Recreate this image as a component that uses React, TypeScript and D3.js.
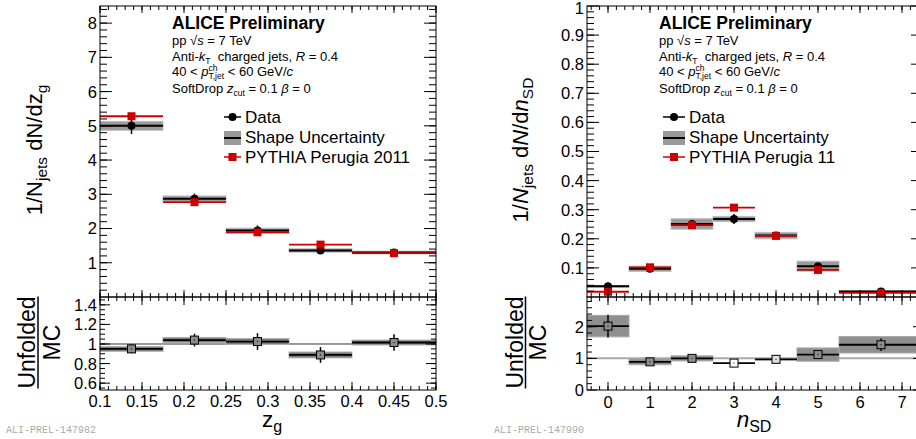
import React from 'react';
import * as d3 from 'd3';

const FONT = '"Liberation Sans", Arial, Helvetica, sans-serif';
const RED = '#cc0000';

// ---- z_g panel data ----
const zgEdges = [0.1, 0.175, 0.25, 0.325, 0.4, 0.5];
const zgData = [5.0, 2.87, 1.94, 1.36, 1.3];
const zgStat = [0.24, 0.15, 0.15, 0.05, 0.08];
const zgSys = [0.13, 0.08, 0.07, 0.05, 0.04];
const zgPythia = [5.28, 2.77, 1.89, 1.53, 1.28];
const zgRatio = [0.95, 1.04, 1.025, 0.888, 1.015];
const zgRatioStat = [0.045, 0.065, 0.085, 0.08, 0.085];
const zgRatioSys = [0.025, 0.027, 0.03, 0.03, 0.025];
const zgXTicks = [0.1, 0.15, 0.2, 0.25, 0.3, 0.35, 0.4, 0.45, 0.5];
const zgXTickLabels = ['0.1', '0.15', '0.2', '0.25', '0.3', '0.35', '0.4', '0.45', '0.5'];
const zgYTicks = [1, 2, 3, 4, 5, 6, 7, 8];
const zgRatioYTicks = [0.6, 0.8, 1, 1.2, 1.4];

// ---- n_SD panel data ----
const nsdEdges = [-0.5, 0.5, 1.5, 2.5, 3.5, 4.5, 5.5, 7.5];
const nsdData = [0.037, 0.097, 0.251, 0.268, 0.211, 0.106, 0.019];
const nsdStat = [0.004, 0.005, 0.01, 0.017, 0.006, 0.008, 0.004];
const nsdSys = [0.003, 0.009, 0.018, 0.009, 0.011, 0.017, 0.003];
const nsdPythia = [0.018, 0.102, 0.247, 0.307, 0.21, 0.093, 0.014];
const nsdRatio = [2.02, 0.89, 1.0, 0.85, 0.97, 1.12, 1.43];
const nsdRatioStat = [0.36, 0.03, 0.03, 0.02, 0.03, 0.08, 0.2];
const nsdRatioSys = [0.34, 0.09, 0.08, 0.0, 0.02, 0.21, 0.26];
const nsdRatioFill = ['#8c8c8c', '#8c8c8c', '#8c8c8c', '#ffffff', '#dddddd', '#8c8c8c', '#8c8c8c'];
const nsdXTicks = [0, 1, 2, 3, 4, 5, 6, 7];
const nsdYTicks = [0.1, 0.2, 0.3, 0.4, 0.5, 0.6, 0.7, 0.8, 0.9, 1];
const nsdYTickLabels = ['0.1', '0.2', '0.3', '0.4', '0.5', '0.6', '0.7', '0.8', '0.9', '1'];
const nsdRatioYTicks = [0, 1, 2];

const TOP_Y0 = 6;
const TOP_Y1 = 297;
const BOT_Y1 = 390;

function rng(a: number, b: number, s: number) {
  const out: number[] = [];
  for (let v = a; v <= b + 1e-9; v += s) out.push(+v.toFixed(6));
  return out;
}

function Ticks({ xs, ys, xMaj, xMin, yMaj, yMin, xl, yl }: any) {
  const [x0, x1] = xs.range();
  const [y1, y0] = ys.range();
  const els: any[] = [];
  const addX = (vals: number[], len: number, k: string) =>
    vals.forEach((v, i) => {
      const x = xs(v);
      els.push(<line key={k + 'b' + i} x1={x} x2={x} y1={y1} y2={y1 - len} stroke="#000" />);
      els.push(<line key={k + 't' + i} x1={x} x2={x} y1={y0} y2={y0 + len} stroke="#000" />);
    });
  const addY = (vals: number[], len: number, k: string) =>
    vals.forEach((v, i) => {
      const y = ys(v);
      els.push(<line key={k + 'l' + i} x1={x0} x2={x0 + len} y1={y} y2={y} stroke="#000" />);
      els.push(<line key={k + 'r' + i} x1={x1} x2={x1 - len} y1={y} y2={y} stroke="#000" />);
    });
  addX(xMin, xl[1], 'xm');
  addX(xMaj, xl[0], 'xM');
  addY(yMin, yl[1], 'ym');
  addY(yMaj, yl[0], 'yM');
  return <g strokeWidth={1}>{els}</g>;
}

function TopMarks({ xs, ys, edges, data, stat, sys, pythia }: any) {
  const idx = d3.range(data.length);
  const cx = (i: number) => xs((edges[i] + edges[i + 1]) / 2);
  return (
    <g>
      {idx.map((i) => (
        <rect key={'b' + i} x={xs(edges[i])} width={xs(edges[i + 1]) - xs(edges[i])}
          y={ys(data[i] + sys[i])} height={Math.max(ys(data[i] - sys[i]) - ys(data[i] + sys[i]), 1)}
          fill="#9a9a9a" stroke="#bdbdbd" strokeWidth={1} />
      ))}
      {idx.map((i) => (
        <g key={'d' + i}>
          <line x1={xs(edges[i])} x2={xs(edges[i + 1])} y1={ys(data[i])} y2={ys(data[i])} stroke="#000" strokeWidth={2} />
          <line x1={cx(i)} x2={cx(i)} y1={ys(data[i] + stat[i])} y2={ys(data[i] - stat[i])} stroke="#000" strokeWidth={1.5} />
          <circle cx={cx(i)} cy={ys(data[i])} r={4} fill="#000" />
        </g>
      ))}
      {idx.map((i) => (
        <g key={'p' + i}>
          <line x1={xs(edges[i])} x2={xs(edges[i + 1])} y1={ys(pythia[i])} y2={ys(pythia[i])} stroke={RED} strokeWidth={1.8} />
          <rect x={cx(i) - 4} y={ys(pythia[i]) - 4} width={8} height={8} fill={RED} />
        </g>
      ))}
    </g>
  );
}

function RatioMarks({ xs, ys, edges, data, stat, sys, fills, bandFill, bandStroke }: any) {
  const idx = d3.range(data.length);
  const cx = (i: number) => xs((edges[i] + edges[i + 1]) / 2);
  return (
    <g>
      {idx.map((i) => (
        <rect key={'b' + i} x={xs(edges[i])} width={xs(edges[i + 1]) - xs(edges[i])}
          y={ys(data[i] + sys[i])} height={Math.max(ys(data[i] - sys[i]) - ys(data[i] + sys[i]), 0)}
          fill={bandFill} stroke={bandStroke} strokeWidth={1} />
      ))}
      {idx.map((i) => (
        <g key={'d' + i}>
          <line x1={xs(edges[i])} x2={xs(edges[i + 1])} y1={ys(data[i])} y2={ys(data[i])} stroke="#000" strokeWidth={1.8} />
          <line x1={cx(i)} x2={cx(i)} y1={ys(data[i] + stat[i])} y2={ys(data[i] - stat[i])} stroke="#000" strokeWidth={1.5} />
          <rect x={cx(i) - 4} y={ys(data[i]) - 4} width={8} height={8} fill={fills ? fills[i] : '#8c8c8c'} stroke="#000" strokeWidth={1} />
          <rect x={cx(i) - 0.5} y={ys(data[i]) - 0.5} width={1} height={1} fill="#000" />
        </g>
      ))}
    </g>
  );
}

function Header({ x }: { x: number }) {
  const fs = 13;
  const sub = 8.5;
  return (
    <g fontFamily={FONT} fill="#000">
      <text x={x} y={29} fontSize={17.5} fontWeight="bold">ALICE Preliminary</text>
      <text x={x} y={45} fontSize={fs}>{'pp \u221A'}<tspan fontStyle="italic">s</tspan>{' = 7 TeV'}</text>
      <text x={x} y={61} fontSize={fs}>
        {'Anti-'}<tspan fontStyle="italic">k</tspan>
        <tspan fontSize={sub} dy={3}>T</tspan>
        <tspan dy={-3}>{'\u00a0 charged jets, '}</tspan>
        <tspan fontStyle="italic">R</tspan>{' = 0.4'}
      </text>
      <text x={x} y={76} fontSize={fs}>
        {'40 < '}<tspan fontStyle="italic">p</tspan>
        <tspan fontSize={sub} dy={-5}>ch</tspan>
        <tspan fontSize={sub} dx={-9} dy={8}>T,jet</tspan>
        <tspan dy={-3}>{' < 60 GeV/'}</tspan>
        <tspan fontStyle="italic">c</tspan>
      </text>
      <text x={x} y={93} fontSize={fs}>
        {'SoftDrop '}<tspan fontStyle="italic">z</tspan>
        <tspan fontSize={sub} dy={3}>cut</tspan>
        <tspan dy={-3}>{' = 0.1 '}</tspan>
        <tspan fontStyle="italic">{'\u03B2'}</tspan>{' = 0'}
      </text>
    </g>
  );
}

function Legend({ x0, x1, tx, label3 }: any) {
  const cx = (x0 + x1) / 2;
  return (
    <g fontFamily={FONT} fontSize={17}>
      <line x1={x0} x2={x1} y1={117} y2={117} stroke="#000" strokeWidth={1.5} />
      <circle cx={cx} cy={117} r={4} fill="#000" />
      <text x={tx} y={123}>Data</text>
      <rect x={x0} y={131} width={x1 - x0} height={14} fill="#9a9a9a" />
      <line x1={x0} x2={x1} y1={138} y2={138} stroke="#000" strokeWidth={2} />
      <text x={tx} y={143}>Shape Uncertainty</text>
      <line x1={x0} x2={x1} y1={157} y2={157} stroke={RED} strokeWidth={1.5} />
      <rect x={cx - 4} y={153} width={8} height={8} fill={RED} />
      <text x={tx} y={163}>{label3}</text>
    </g>
  );
}

export default function App() {
  const lx = d3.scaleLinear().domain([0.1, 0.5]).range([100, 436]);
  const ly = d3.scaleLinear().domain([0, 8.5]).range([TOP_Y1, TOP_Y0]);
  const lry = d3.scaleLinear().domain([0.53, 1.48]).range([BOT_Y1, TOP_Y1]);
  const rx = d3.scaleLinear().domain([-0.5, 7.5]).range([587, 923]);
  const ry = d3.scaleLinear().domain([0, 1]).range([TOP_Y1, TOP_Y0]);
  const rry = d3.scaleLinear().domain([0, 2.94]).range([BOT_Y1, TOP_Y1]);

  const tickFont = 16.5;
  const MONO = '"Liberation Mono", "DejaVu Sans Mono", monospace';

  return (
    <svg width={916} height={439} style={{ position: 'absolute', left: 0, top: 0, background: '#fff' }}
      fontFamily={FONT}>
      <rect x={0} y={0} width={916} height={439} fill="#fff" />

      {/* ---------------- LEFT PANEL ---------------- */}
      <TopMarks xs={lx} ys={ly} edges={zgEdges} data={zgData} stat={zgStat} sys={zgSys} pythia={zgPythia} />
      <Ticks xs={lx} ys={ly} xMaj={zgXTicks} xMin={rng(0.1, 0.5, 0.01)} yMaj={zgYTicks} yMin={rng(0.2, 8.4, 0.2)} xl={[7, 4]} yl={[12, 7]} />
      <rect x={100} y={TOP_Y0} width={336} height={TOP_Y1 - TOP_Y0} fill="none" stroke="#000" strokeWidth={1} />
      {zgYTicks.map((v) => (
        <text key={'lyt' + v} x={97} y={ly(v)} dy="0.36em" textAnchor="end" fontSize={tickFont}>{v}</text>
      ))}
      <Header x={172} />
      <Legend x0={224} x1={241} tx={245} label3="PYTHIA Perugia 2011" />

      <line x1={100} x2={436} y1={lry(1)} y2={lry(1)} stroke="#333" strokeWidth={1} />
      <RatioMarks xs={lx} ys={lry} edges={zgEdges} data={zgRatio} stat={zgRatioStat} sys={zgRatioSys} fills={null} bandFill="#7a7a7a" bandStroke="#b0b0b0" />
      <Ticks xs={lx} ys={lry} xMaj={zgXTicks} xMin={rng(0.1, 0.5, 0.01)} yMaj={zgRatioYTicks} yMin={rng(0.55, 1.45, 0.05)} xl={[8, 4]} yl={[10, 5]} />
      <rect x={100} y={TOP_Y1} width={336} height={BOT_Y1 - TOP_Y1} fill="none" stroke="#000" strokeWidth={1} />
      {zgRatioYTicks.map((v) => (
        <text key={'lryt' + v} x={97} y={lry(v)} dy="0.36em" textAnchor="end" fontSize={tickFont}>{v}</text>
      ))}
      {zgXTicks.map((v, i) => (
        <text key={'lxt' + v} x={lx(v)} y={407} textAnchor="middle" fontSize={tickFont}>{zgXTickLabels[i]}</text>
      ))}
      <text x={272} y={427} textAnchor="middle" fontSize={22.5}>z<tspan fontSize={16} dy={5}>g</tspan></text>

      <text transform="translate(42,150) rotate(-90)" textAnchor="middle" fontSize={22}>
        {'1/N'}<tspan fontSize={15.5} dy={5}>jets</tspan><tspan dy={-5}>{'\u00a0dN/dz'}</tspan><tspan fontSize={15.5} dy={5}>g</tspan>
      </text>
      <text transform="translate(35,342.5) rotate(-90)" textAnchor="middle" fontSize={23}>Unfolded</text>
      <line x1={38} x2={38} y1={296.5} y2={388.5} stroke="#000" strokeWidth={1.5} />
      <text transform="translate(60,342.5) rotate(-90)" textAnchor="middle" fontSize={23}>MC</text>

      <text x={6} y={433} fontFamily={MONO} fontSize={10} fill="#aaa">ALI-PREL-147982</text>

      {/* ---------------- RIGHT PANEL ---------------- */}
      <TopMarks xs={rx} ys={ry} edges={nsdEdges} data={nsdData} stat={nsdStat} sys={nsdSys} pythia={nsdPythia} />
      <Ticks xs={rx} ys={ry} xMaj={nsdXTicks} xMin={rng(-0.4, 7.4, 0.2)} yMaj={nsdYTicks} yMin={rng(0.02, 0.98, 0.02)} xl={[7, 4]} yl={[12, 7]} />
      <rect x={587} y={TOP_Y0} width={336} height={TOP_Y1 - TOP_Y0} fill="none" stroke="#000" strokeWidth={1} />
      {nsdYTicks.map((v, i) => (
        <text key={'ryt' + v} x={584} y={Math.max(ry(v), 8.5)} dy="0.36em" textAnchor="end" fontSize={tickFont}>{nsdYTickLabels[i]}</text>
      ))}
      <Header x={659} />
      <Legend x0={663} x1={685} tx={689} label3="PYTHIA Perugia 11" />

      <line x1={587} x2={923} y1={rry(1)} y2={rry(1)} stroke="#aaa" strokeWidth={2} />
      <RatioMarks xs={rx} ys={rry} edges={nsdEdges} data={nsdRatio} stat={nsdRatioStat} sys={nsdRatioSys} fills={nsdRatioFill} bandFill="#8f8f8f" bandStroke="#a8a8a8" />
      <Ticks xs={rx} ys={rry} xMaj={nsdXTicks} xMin={rng(-0.4, 7.4, 0.2)} yMaj={nsdRatioYTicks} yMin={rng(0.2, 2.8, 0.2)} xl={[8, 4]} yl={[10, 5]} />
      <rect x={587} y={TOP_Y1} width={336} height={BOT_Y1 - TOP_Y1} fill="none" stroke="#000" strokeWidth={1} />
      {nsdRatioYTicks.map((v) => (
        <text key={'rryt' + v} x={584} y={rry(v)} dy="0.36em" textAnchor="end" fontSize={tickFont}>{v}</text>
      ))}
      {nsdXTicks.map((v) => (
        <text key={'rxt' + v} x={rx(v)} y={408} textAnchor="middle" fontSize={tickFont}>{v}</text>
      ))}
      <text x={754} y={427} textAnchor="middle" fontSize={22.5}><tspan fontStyle="italic">n</tspan><tspan fontSize={16} dy={5}>SD</tspan></text>

      <text transform="translate(528,150) rotate(-90)" textAnchor="middle" fontSize={22}>
        {'1/'}<tspan fontStyle="italic">N</tspan><tspan fontSize={15.5} dy={5}>jets</tspan><tspan dy={-5}>{'\u00a0d'}</tspan><tspan fontStyle="italic">N</tspan><tspan>{'/d'}</tspan><tspan fontStyle="italic">n</tspan><tspan fontSize={15.5} dy={5}>SD</tspan>
      </text>
      <text transform="translate(523,342.5) rotate(-90)" textAnchor="middle" fontSize={23}>Unfolded</text>
      <line x1={525.5} x2={525.5} y1={296.5} y2={388.5} stroke="#000" strokeWidth={1.5} />
      <text transform="translate(546,342.5) rotate(-90)" textAnchor="middle" fontSize={23}>MC</text>

      <text x={494} y={433} fontFamily={MONO} fontSize={10} fill="#aaa">ALI-PREL-147990</text>
    </svg>
  );
}
